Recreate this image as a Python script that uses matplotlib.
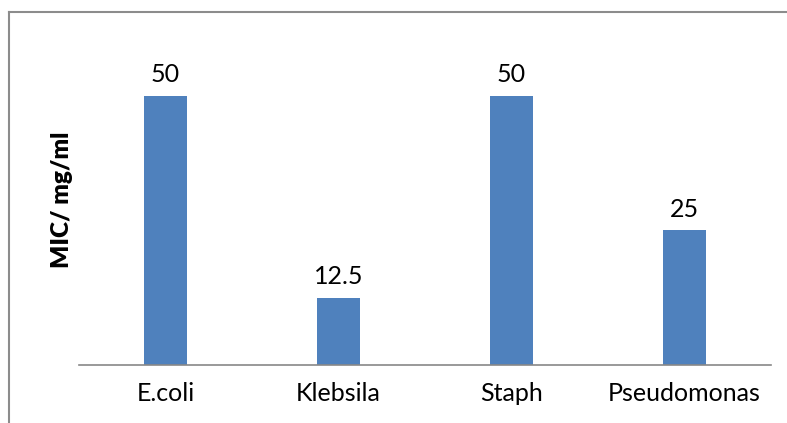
import matplotlib.pyplot as plt
from matplotlib.lines import Line2D

organisms = ['E.coli', 'Klebsila', 'Staph', 'Pseudomonas']
mic_values = [50, 12.5, 50, 25]
value_labels = ['50', '12.5', '50', '25']

plt.rcParams['font.family'] = ['Lato', 'DejaVu Sans']

fig = plt.figure(figsize=(7.87, 4.23), dpi=100)
ax = fig.add_axes([0.1004, 0.1371, 0.8793, 0.7636])

x = range(len(organisms))
bars = ax.bar(x, mic_values, width=0.245, color='#4F81BD')

for b, lab in zip(bars, value_labels):
    ax.annotate(lab, (b.get_x() + b.get_width() / 2, b.get_height()),
                xytext=(0, 7), textcoords='offset points',
                ha='center', va='bottom', fontsize=18)

ax.set_xlim(-0.5, len(organisms) - 0.5)
ax.set_ylim(0, 60)
ax.set_xticks(list(x))
ax.set_xticklabels(organisms, fontsize=18)
ax.tick_params(axis='x', length=0, pad=12)
ax.set_yticks([])
ax.set_ylabel('MIC/ mg/ml', fontsize=17.5, fontweight='heavy')
ax.yaxis.set_label_coords(-0.008, 0.51)

for s in ['top', 'right', 'left']:
    ax.spines[s].set_visible(False)
ax.spines['bottom'].set_color('#888888')
ax.spines['bottom'].set_linewidth(1.2)

# outer chart border (cropped at right and bottom)
fig.add_artist(Line2D([9 / 787, 9 / 787], [0, 1 - 12 / 423], color='#8c8c8c', lw=1.5))
fig.add_artist(Line2D([9 / 787, 1], [1 - 12 / 423, 1 - 12 / 423], color='#8c8c8c', lw=1.5))

fig.savefig('out.png', dpi=100)
